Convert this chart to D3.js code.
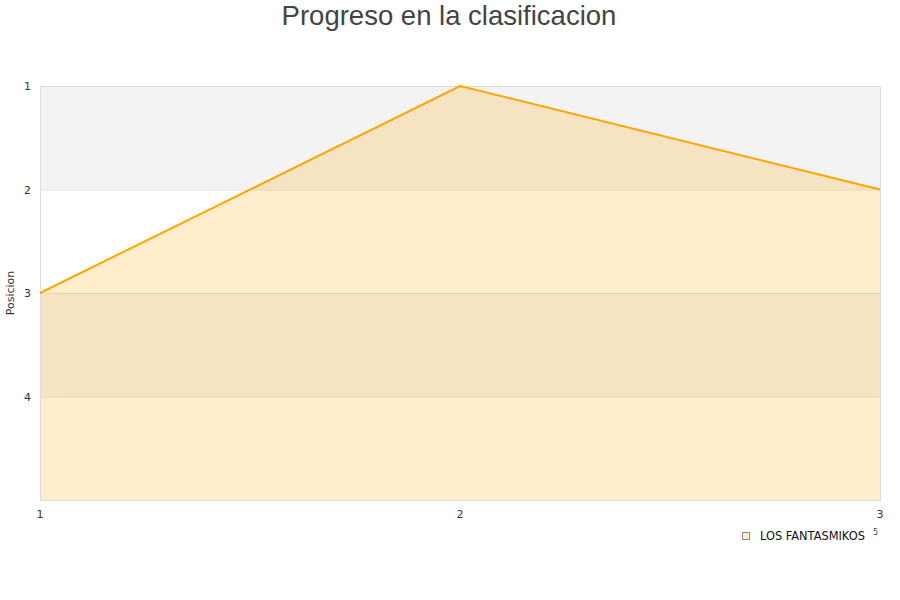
<!DOCTYPE html>
<html><head><meta charset="utf-8">
<script src="https://cdn.jsdelivr.net/npm/d3@7"></script>
<style>body{margin:0;background:#fff}svg{display:block}</style>
</head><body>
<svg id="c" width="900" height="600"></svg>
<script>
const rounds = [1, 2, 3];
const positions = [3, 1, 2];
const seriesName = "LOS FANTASMIKOS";
const yTicks = [1, 2, 3, 4];
const bands = [[1, 2], [3, 4]];

const svg = d3.select("#c");
const m = {l: 40, r: 880, t: 86, b: 500};
const x = d3.scaleLinear().domain([1, 3]).range([m.l, m.r]);
const y = d3.scaleLinear().domain([1, 5]).range([m.t, m.b]);

svg.append("text").attr("x", 449).attr("y", 25).attr("text-anchor", "middle")
  .attr("font-family", "Liberation Sans, Arial, sans-serif").attr("font-size", 27.5)
  .attr("fill", "#444").text("Progreso en la clasificacion");

svg.selectAll("rect.band").data(bands).enter().append("rect")
  .attr("x", m.l).attr("width", m.r - m.l)
  .attr("y", d => y(d[0])).attr("height", d => y(d[1]) - y(d[0]))
  .attr("fill", "#f3f3f3");

svg.selectAll("line.grid").data([2, 3, 4]).enter().append("line")
  .attr("x1", m.l).attr("x2", m.r).attr("y1", d => y(d) + 0.5).attr("y2", d => y(d) + 0.5)
  .attr("stroke", "#e0e0e0");

const pts = rounds.map((r, i) => [r, positions[i]]);
svg.append("path").datum(pts)
  .attr("d", d3.area().x(d => x(d[0])).y0(y(5)).y1(d => y(d[1])))
  .attr("fill", "#ffa500").attr("fill-opacity", 0.2);

svg.append("rect").attr("x", m.l + 0.5).attr("y", m.t + 0.5)
  .attr("width", m.r - m.l).attr("height", m.b - m.t)
  .attr("fill", "none").attr("stroke", "#dcdcdc");

svg.append("path").datum(pts)
  .attr("d", d3.line().x(d => x(d[0])).y(d => y(d[1])))
  .attr("fill", "none").attr("stroke", "#ffa500").attr("stroke-width", 2);

const tf = "DejaVu Sans, sans-serif";
svg.selectAll("text.yt").data(yTicks).enter().append("text")
  .attr("x", 31).attr("y", d => y(d) + 4).attr("text-anchor", "end")
  .attr("font-family", tf).attr("font-size", 11).attr("fill", "#333").text(d => d);

svg.selectAll("text.xt").data(rounds).enter().append("text")
  .attr("x", d => x(d)).attr("y", 518).attr("text-anchor", "middle")
  .attr("font-family", tf).attr("font-size", 11).attr("fill", "#333").text(d => d);

svg.append("text").attr("transform", "translate(14,293) rotate(-90)")
  .attr("text-anchor", "middle").attr("font-family", tf).attr("font-size", 11)
  .attr("fill", "#333").text("Posicion");

svg.append("rect").attr("x", 742.5).attr("y", 532.5).attr("width", 7).attr("height", 7)
  .attr("fill", "#ffebc9").attr("stroke", "#888");
svg.append("text").attr("x", 760).attr("y", 540).attr("font-family", tf)
  .attr("font-size", 11.4).attr("fill", "#111").text(seriesName);
svg.append("text").attr("x", 873).attr("y", 535).attr("font-family", tf)
  .attr("font-size", 8).attr("fill", "#444").text("5");
</script>
</body></html>
